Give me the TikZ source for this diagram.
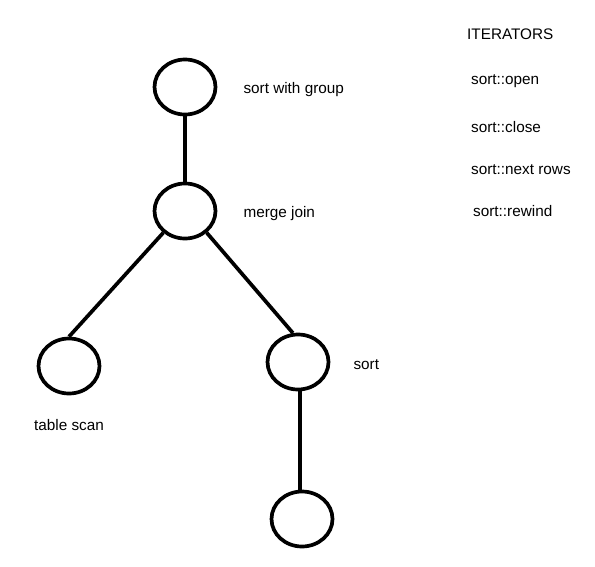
\documentclass[tikz,border=0pt]{standalone}
\usepackage{fontspec}
\setmainfont{Liberation Sans}
\usetikzlibrary{shapes.geometric,positioning}

\begin{document}
\begin{tikzpicture}[
    x=1pt, y=-1pt,
    node distance=26pt,
    op/.style={ellipse, draw, line width=3.7pt, minimum width=61pt, minimum height=55pt, inner sep=0pt},
    lbl/.style={font=\fontsize{15.3}{18}\selectfont, inner sep=0pt, yshift=-2.5pt},
    edge/.style={line width=3.7pt},
]
\useasboundingbox (0,0) rectangle (595,566);

% Nodes
\node[op] (group) at (185,87) {};
\node[op] (merge) at (185,211) {};
\node[op] (scan) at (69,366) {};
\node[op] (sort) at (298,362) {};
\node[op] (child) at (302,519) {};
\coordinate (col) at (300,0);

% Labels
\node[lbl, right=26pt of group, anchor=west] (groupname) {sort with group};
\node[lbl, right=26pt of merge, anchor=west] (mergename) {merge join};
\node[lbl, right=23pt of sort, anchor=west] (sortname) {sort};
\node[lbl, below=21pt of scan] (scanname) {table scan};

% Iterators
\node[lbl, anchor=west] (iter) at (467,32) {ITERATORS};
\node[lbl, anchor=west] (open) at (471,79) {sort::open};
\node[lbl, anchor=west] (close) at (471,125) {sort::close};
\node[lbl, anchor=west] (next) at (471,167) {sort::next rows};
\node[lbl, anchor=west] (rewind) at (473,209) {sort::rewind};

% Relations
\draw[edge] (group) -- (merge);
\draw[edge] (merge.225) -- (scan.north);
\draw[edge] (merge.315) -- (sort.100);
\draw[edge] (sort.south -| col) -- (child.north -| col);

\end{tikzpicture}
\end{document}
